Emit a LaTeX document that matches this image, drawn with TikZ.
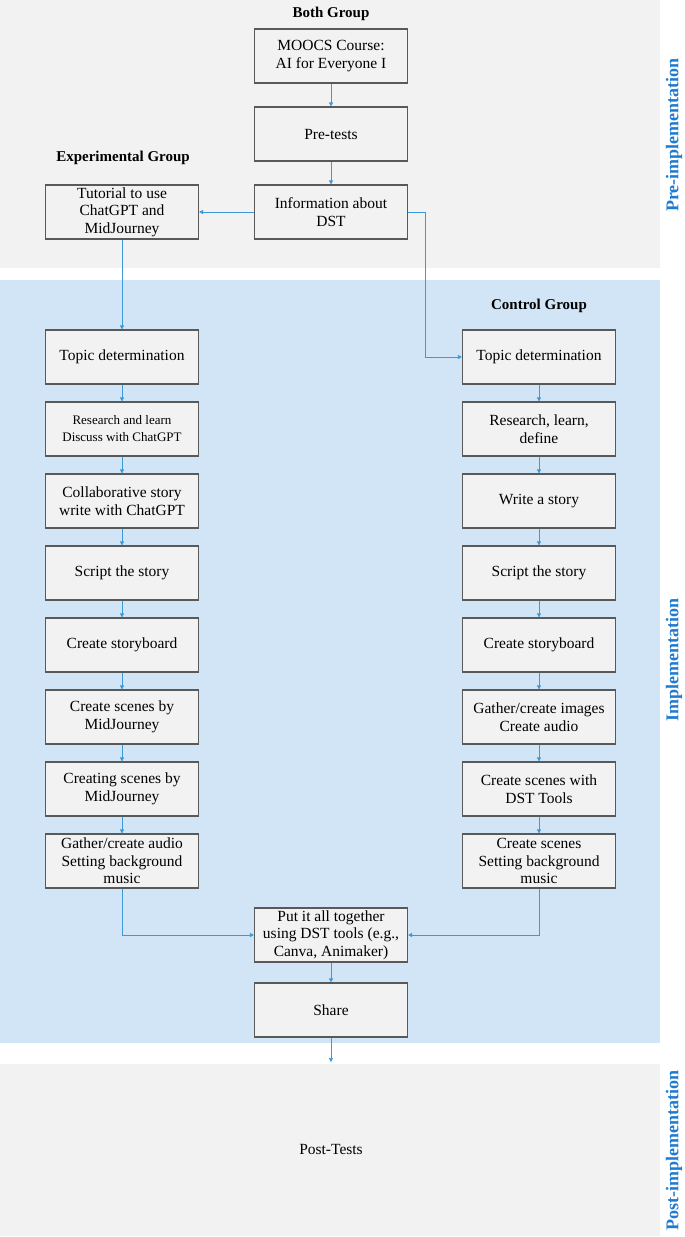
\documentclass[tikz,border=0pt]{standalone}
\usepackage{fontspec}
\setmainfont{Liberation Serif}
\usetikzlibrary{arrows.meta}
\definecolor{pgray}{HTML}{F2F2F2}
\definecolor{pblue}{HTML}{D2E5F6}
\definecolor{lblue}{HTML}{1F7BCF}
\definecolor{ablue}{HTML}{3D9AD6}
\definecolor{bord}{HTML}{595959}
\begin{document}
\begin{tikzpicture}[x=1pt,y=-1pt,
  box/.style={draw=bord,line width=1.1pt,fill=pgray,minimum width=153pt,minimum height=54pt,align=center,inner sep=1pt,font=\fontsize{15.5}{17.5}\selectfont},
  small/.style={font=\fontsize{13}{17}\selectfont},
  arr/.style={draw=ablue,line width=0.6pt,-{Triangle[width=4pt,length=4pt]}},
  grp/.style={font=\bfseries\fontsize{15}{17}\selectfont},
  phase/.style={font=\bfseries\fontsize{18}{20}\selectfont,text=lblue,rotate=90}]
\useasboundingbox (0,0) rectangle (685,1237);
\fill[pgray] (0,0) rectangle (660,268);
\fill[pblue] (0,280) rectangle (660,1043);
\fill[pgray] (0,1064) rectangle (660,1236);
\node[phase] (p1) at (674,135) {Pre-implementation};
\node[phase] (p2) at (674,660) {Implementation};
\node[phase] (p3) at (674,1150) {Post-implementation};
\node[grp] (g1) at (331,14) {Both Group};
\node[grp] (g2) at (123,158) {Experimental Group};
\node[grp] (g3) at (539,306) {Control Group};
\node[box] (m) at (331,56) {MOOCS Course:\\AI for Everyone I};
\node[box] (pre) at (331,134) {Pre-tests};
\node[box] (info) at (331,212) {Information about\\DST};
\node[box] (tut) at (122,212) {Tutorial to use\\ChatGPT and\\MidJourney};
\node[box] (l1) at (122,357) {Topic determination};
\node[box,small] (l2) at (122,429) {Research and learn\\Discuss with ChatGPT};
\node[box] (l3) at (122,501) {Collaborative story\\write with ChatGPT};
\node[box] (l4) at (122,573) {Script the story};
\node[box] (l5) at (122,645) {Create storyboard};
\node[box] (l6) at (122,717) {Create scenes by\\MidJourney};
\node[box] (l7) at (122,789) {Creating scenes by\\MidJourney};
\node[box] (l8) at (122,861) {Gather/create audio\\Setting background\\music};
\node[box] (r1) at (539,357) {Topic determination};
\node[box] (r2) at (539,429) {Research, learn,\\define};
\node[box] (r3) at (539,501) {Write a story};
\node[box] (r4) at (539,573) {Script the story};
\node[box] (r5) at (539,645) {Create storyboard};
\node[box] (r6) at (539,717) {Gather/create images\\Create audio};
\node[box] (r7) at (539,789) {Create scenes with\\DST Tools};
\node[box] (r8) at (539,861) {Create scenes\\Setting background\\music};
\node[box] (put) at (331,935) {Put it all together\\using DST tools (e.g.,\\Canva, Animaker)};
\node[box] (sh) at (331,1010) {Share};
\node[font=\fontsize{15.5}{17}\selectfont] (post) at (331,1149) {Post-Tests};
\coordinate (pt) at (331,1062);
\draw[arr] (m) -- (pre);
\draw[arr] (pre) -- (info);
\draw[arr] (info) -- (tut);
\draw[arr] (tut) -- (l1);
\draw[arr] (info.east) -| (425,357) -- (r1.west);
\foreach \a/\b in {l1/l2,l2/l3,l3/l4,l4/l5,l5/l6,l6/l7,l7/l8,r1/r2,r2/r3,r3/r4,r4/r5,r5/r6,r6/r7,r7/r8}
  \draw[arr] (\a) -- (\b);
\draw[arr] (l8.south) |- (put.west);
\draw[arr] (r8.south) |- (put.east);
\draw[arr] (put) -- (sh);
\draw[arr] (sh.south) -- (pt);
\end{tikzpicture}
\end{document}
